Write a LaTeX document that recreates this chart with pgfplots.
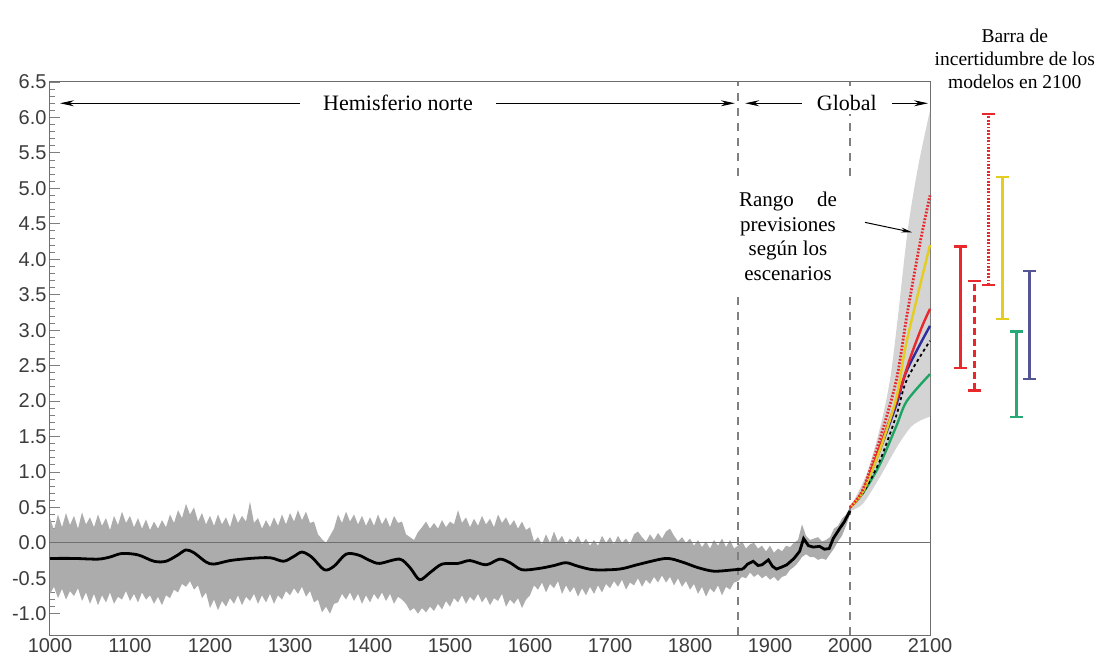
\documentclass[border=0pt]{standalone}
\usepackage{fontspec}
\setmainfont{Liberation Serif}
\newfontfamily\tickfont{Liberation Sans}
\usepackage{pgfplots}
\pgfplotsset{compat=1.18}
\usepackage{pgfplotstable}
\usepgfplotslibrary{fillbetween}
\usetikzlibrary{arrows.meta}

\definecolor{bandgray}{RGB}{172,172,172}
\definecolor{fangray}{RGB}{212,212,212}
\definecolor{myred}{RGB}{232,40,45}
\definecolor{myyellow}{RGB}{228,205,30}
\definecolor{myblue}{RGB}{45,45,160}
\definecolor{mygreen}{RGB}{30,165,100}
\definecolor{barblue}{RGB}{85,85,150}
\definecolor{bargreen}{RGB}{40,170,120}
\definecolor{axisgray}{RGB}{110,110,110}
\definecolor{ticktext}{RGB}{60,60,60}

\pgfplotstableread{
year up lo
1000 0.35 -0.72
1005 0.18 -0.62
1010 0.40 -0.78
1015 0.22 -0.65
1020 0.42 -0.80
1025 0.25 -0.68
1030 0.38 -0.75
1035 0.20 -0.64
1040 0.43 -0.82
1045 0.26 -0.70
1050 0.36 -0.86
1055 0.22 -0.72
1060 0.40 -0.88
1065 0.24 -0.74
1070 0.35 -0.84
1075 0.18 -0.70
1080 0.38 -0.86
1085 0.25 -0.76
1090 0.44 -0.80
1095 0.28 -0.68
1100 0.38 -0.82
1105 0.22 -0.72
1110 0.35 -0.84
1115 0.20 -0.70
1120 0.33 -0.80
1125 0.18 -0.74
1130 0.30 -0.86
1135 0.20 -0.76
1140 0.32 -0.88
1145 0.22 -0.74
1150 0.40 -0.78
1155 0.28 -0.66
1160 0.46 -0.70
1165 0.35 -0.58
1170 0.55 -0.62
1175 0.40 -0.54
1180 0.50 -0.66
1185 0.30 -0.60
1190 0.42 -0.78
1195 0.26 -0.70
1200 0.38 -0.92
1205 0.24 -0.80
1210 0.40 -0.95
1215 0.26 -0.82
1220 0.36 -0.90
1225 0.22 -0.78
1230 0.42 -0.86
1235 0.28 -0.74
1240 0.38 -0.88
1245 0.30 -0.76
1250 0.58 -0.82
1255 0.28 -0.72
1260 0.35 -0.86
1265 0.20 -0.74
1270 0.32 -0.84
1275 0.22 -0.72
1280 0.36 -0.86
1285 0.24 -0.74
1290 0.40 -0.80
1295 0.26 -0.68
1300 0.42 -0.74
1305 0.30 -0.64
1310 0.46 -0.72
1315 0.32 -0.62
1320 0.44 -0.76
1325 0.28 -0.68
1330 0.30 -0.84
1335 0.12 -0.80
1340 0.05 -0.98
1345 0.00 -0.90
1350 0.10 -1.00
1355 0.20 -0.86
1360 0.40 -0.84
1365 0.28 -0.72
1370 0.44 -0.80
1375 0.30 -0.70
1380 0.40 -0.82
1385 0.26 -0.72
1390 0.38 -0.86
1395 0.24 -0.74
1400 0.36 -0.84
1405 0.24 -0.72
1410 0.40 -0.80
1415 0.26 -0.70
1420 0.36 -0.82
1425 0.22 -0.72
1430 0.38 -0.86
1435 0.28 -0.76
1440 0.30 -0.80
1445 0.12 -0.86
1450 0.08 -0.96
1455 0.04 -0.92
1460 0.15 -1.00
1465 0.22 -0.92
1470 0.30 -0.98
1475 0.20 -0.90
1480 0.28 -0.96
1485 0.20 -0.86
1490 0.32 -0.94
1495 0.22 -0.82
1500 0.30 -0.90
1505 0.26 -0.78
1510 0.46 -0.84
1515 0.28 -0.74
1520 0.36 -0.86
1525 0.22 -0.76
1530 0.34 -0.82
1535 0.24 -0.72
1540 0.38 -0.84
1545 0.26 -0.76
1550 0.34 -0.88
1555 0.22 -0.78
1560 0.40 -0.82
1565 0.28 -0.72
1570 0.36 -0.90
1575 0.24 -0.80
1580 0.32 -0.86
1585 0.20 -0.78
1590 0.30 -0.92
1595 0.18 -0.80
1600 0.22 -0.74
1605 0.02 -0.60
1610 0.08 -0.66
1615 -0.02 -0.56
1620 0.12 -0.70
1625 0.00 -0.58
1630 0.16 -0.64
1635 0.02 -0.54
1640 0.10 -0.72
1645 -0.02 -0.60
1650 0.06 -0.70
1655 0.00 -0.62
1660 0.10 -0.76
1665 -0.02 -0.64
1670 0.06 -0.74
1675 -0.04 -0.62
1680 0.04 -0.72
1685 -0.04 -0.60
1690 0.10 -0.70
1695 0.00 -0.58
1700 0.08 -0.64
1705 -0.02 -0.54
1710 0.10 -0.62
1715 0.00 -0.52
1720 0.06 -0.66
1725 -0.02 -0.56
1730 0.12 -0.60
1735 0.16 -0.50
1740 0.08 -0.62
1745 0.02 -0.52
1750 0.12 -0.58
1755 0.04 -0.48
1760 0.14 -0.56
1765 0.06 -0.46
1770 0.16 -0.56
1775 0.20 -0.48
1780 0.10 -0.60
1785 0.02 -0.50
1790 0.08 -0.62
1795 0.00 -0.54
1800 0.06 -0.66
1805 -0.04 -0.58
1810 0.04 -0.72
1815 -0.06 -0.62
1820 0.02 -0.76
1825 -0.08 -0.64
1830 0.04 -0.70
1835 -0.04 -0.60
1840 0.06 -0.74
1845 -0.06 -0.62
1850 0.04 -0.66
1855 -0.08 -0.56
1860 -0.04 -0.54
1865 0.02 -0.48
1870 -0.08 -0.50
1875 -0.02 -0.42
1880 0.00 -0.48
1885 -0.08 -0.44
1890 -0.04 -0.50
1895 -0.12 -0.46
1900 -0.04 -0.52
1905 -0.14 -0.48
1910 -0.08 -0.54
1915 -0.12 -0.48
1920 -0.04 -0.46
1925 -0.06 -0.38
1930 0.00 -0.34
1935 0.04 -0.28
1940 0.26 -0.20
1945 0.10 -0.16
1950 0.04 -0.20
1955 0.06 -0.20
1960 0.08 -0.24
1965 0.02 -0.22
1970 0.04 -0.24
1975 0.08 -0.16
1980 0.20 -0.08
1985 0.24 0.02
1990 0.34 0.10
1995 0.40 0.24
2000 0.50 0.40
}\band

\begin{document}
\begin{tikzpicture}
\begin{axis}[
  name=ax,
  scale only axis, width=880pt, height=553pt,
  xmin=1000, xmax=2100, ymin=-1.3, ymax=6.5,
  clip=false,
  axis line style={draw=axisgray, line width=1pt},
  tick pos=left, tick align=inside,
  major tick length=10pt, minor tick length=5pt,
  every tick/.style={draw=gray, line width=0.8pt},
  xtick={1000,1100,...,2100},
  xticklabels={1000,1100,1200,1300,1400,1500,1600,1700,1800,1900,2000,2100},
  xtick style={draw=none},
  minor xtick={1000,1050,...,2100},
  ytick={-1,-0.5,...,6.5},
  yticklabels={-1.0,-0.5,0.0,0.5,1.0,1.5,2.0,2.5,3.0,3.5,4.0,4.5,5.0,5.5,6.0,6.5},
  minor y tick num=4,
  tick label style={font=\tickfont\fontsize{20}{24}\selectfont, text=ticktext},
]
% uncertainty band
\addplot[name path=up, draw=none] table[x=year,y=up] {\band};
\addplot[name path=lo, draw=none] table[x=year,y=lo] {\band};
\addplot[bandgray] fill between[of=up and lo];

% projection fan
\addplot[name path=fu, draw=none, smooth] coordinates {(2000,0.5) (2020,0.95) (2037,1.6) (2050,2.3) (2060,3.2) (2072,4.4) (2085,5.3) (2100,6.1)};
\addplot[name path=fl, draw=none, smooth] coordinates {(2000,0.45) (2016,0.55) (2037,0.92) (2058,1.34) (2075,1.62) (2087,1.72) (2100,1.78)};
\addplot[fangray] fill between[of=fu and fl];

% zero line
\draw[axisgray, line width=0.8pt] (axis cs:1000,0) -- (axis cs:2100,0);

% dashed separators
\draw[gray, line width=1.2pt, dash pattern=on 8pt off 7pt] (axis cs:1860,-1.3) -- (axis cs:1860,3.56);
\draw[gray, line width=1.2pt, dash pattern=on 8pt off 7pt] (axis cs:1860,5.18) -- (axis cs:1860,6.5);
\draw[gray, line width=1.2pt, dash pattern=on 8pt off 7pt] (axis cs:2000,-1.3) -- (axis cs:2000,3.56);
\draw[gray, line width=1.2pt, dash pattern=on 8pt off 7pt] (axis cs:2000,5.18) -- (axis cs:2000,6.5);

% smoothed reconstruction
\addplot[black, line width=2.8pt, smooth, tension=0.5] coordinates {
(1000,-0.22) (1030,-0.22) (1060,-0.23) (1075,-0.20) (1090,-0.15) (1110,-0.17) (1130,-0.26) (1145,-0.26)
(1160,-0.17) (1170,-0.10) (1180,-0.14) (1195,-0.27) (1205,-0.30) (1225,-0.25) (1250,-0.22) (1275,-0.21)
(1292,-0.26) (1305,-0.19) (1315,-0.13) (1327,-0.20) (1343,-0.38) (1355,-0.33) (1370,-0.16) (1385,-0.17)
(1400,-0.25) (1412,-0.29) (1437,-0.23) (1450,-0.35) (1462,-0.52) (1475,-0.42) (1490,-0.30) (1510,-0.29)
(1525,-0.25) (1545,-0.31) (1562,-0.23) (1575,-0.28) (1590,-0.38) (1612,-0.36) (1630,-0.32) (1645,-0.28)
(1660,-0.33) (1680,-0.38) (1712,-0.37) (1737,-0.30) (1770,-0.22) (1790,-0.27) (1810,-0.35) (1830,-0.40)
(1855,-0.38) (1866,-0.37)};
\addplot[black, line width=2.8pt] coordinates {
(1866,-0.37) (1872,-0.30) (1879,-0.26) (1885,-0.32) (1890,-0.31) (1898,-0.24) (1903,-0.33) (1908,-0.37)
(1915,-0.34) (1921,-0.31) (1930,-0.22) (1937,-0.12) (1942,0.06) (1948,-0.04) (1954,-0.06) (1962,-0.05)
(1968,-0.09) (1974,-0.08) (1979,0.06) (1987,0.20) (1993,0.30) (2000,0.45)};

% scenario projections
\addplot[mygreen, line width=2.4pt, smooth] coordinates {(2000,0.5) (2016,0.7) (2037,1.1) (2058,1.65) (2071,2.0) (2100,2.38)};
\addplot[black, line width=1.8pt, dashed, smooth] coordinates {(2000,0.5) (2016,0.7) (2037,1.15) (2058,1.8) (2071,2.3) (2100,2.85)};
\addplot[myblue, line width=2.4pt, smooth] coordinates {(2000,0.5) (2016,0.72) (2037,1.3) (2058,1.95) (2071,2.43) (2100,3.06)};
\addplot[myred, line width=2.4pt, smooth] coordinates {(2000,0.5) (2016,0.73) (2037,1.35) (2058,2.0) (2075,2.6) (2090,3.05) (2100,3.3)};
\addplot[myyellow, line width=2.4pt, smooth] coordinates {(2000,0.5) (2016,0.72) (2037,1.3) (2058,2.05) (2071,2.85) (2100,4.2)};
\addplot[myred, line width=2.8pt, dash pattern=on 1.8pt off 1.6pt, smooth] coordinates {(2000,0.5) (2016,0.75) (2037,1.45) (2058,2.3) (2071,3.2) (2087,4.2) (2100,4.9)};

% model uncertainty bars in 2100
\addplot[myred, line width=3pt, mark=-, mark size=6.5pt, mark options={solid, line width=2.2pt}] coordinates {(2137.5,2.47) (2137.5,4.18)};
\addplot[myred, line width=3pt, dash pattern=on 7pt off 4pt, mark=-, mark size=6.5pt, mark options={solid, line width=2.2pt}] coordinates {(2156,2.15) (2156,3.69)};
\addplot[myred, line width=3pt, dash pattern=on 1.8pt off 1.6pt, mark=-, mark size=6.5pt, mark options={solid, line width=2.2pt}] coordinates {(2172.5,3.64) (2172.5,6.05)};
\addplot[myyellow, line width=3pt, mark=-, mark size=6.5pt, mark options={solid, line width=2.2pt}] coordinates {(2190,3.16) (2190,5.16)};
\addplot[bargreen, line width=3pt, mark=-, mark size=6.5pt, mark options={solid, line width=2.2pt}] coordinates {(2207.5,1.77) (2207.5,2.98)};
\addplot[barblue, line width=3pt, mark=-, mark size=6.5pt, mark options={solid, line width=2.2pt}] coordinates {(2224,2.31) (2224,3.83)};

% region arrows
\draw[line width=0.9pt, {Stealth[length=14pt,width=6pt]}-{Stealth[length=14pt,width=6pt]}] (axis cs:1012.5,6.2) -- (axis cs:1856,6.2);
\draw[line width=0.9pt, {Stealth[length=14pt,width=6pt]}-{Stealth[length=14pt,width=6pt]}] (axis cs:1869,6.2) -- (axis cs:2097.5,6.2);
\node[fill=white, inner xsep=23pt, inner ysep=3pt, font=\fontsize{22}{26}\selectfont] at (axis cs:1435,6.2) {Hemisferio norte};
\node[fill=white, inner xsep=15pt, inner ysep=3pt, font=\fontsize{22}{26}\selectfont] at (axis cs:1996,6.2) {Global};

% scenario range label
\node[align=center, font=\fontsize{21}{24.5}\selectfont] at (axis cs:1922.5,4.32)
  {\makebox[98pt]{Rango\hfill de}\\previsiones\\según los\\escenarios};
\draw[line width=1pt, -{Stealth[length=11pt,width=5pt]}] (axis cs:2018.75,4.52) -- (axis cs:2077.5,4.38);

% bar label
\node[align=center, font=\fontsize{19.5}{23}\selectfont] at (axis cs:2206,6.83)
  {Barra de\\incertidumbre de los\\modelos en 2100};
\end{axis}
\pgfresetboundingbox
\path ([xshift=-50pt,yshift=-29pt]ax.south west) rectangle ([xshift=169pt,yshift=82pt]ax.north east);
\end{tikzpicture}
\end{document}
